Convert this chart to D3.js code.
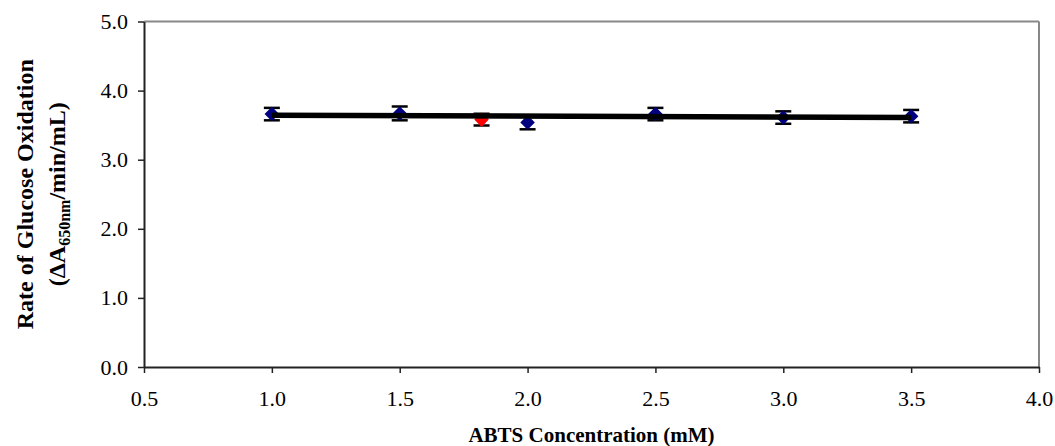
<!DOCTYPE html>
<html>
<head>
<meta charset="utf-8">
<script src="https://cdn.jsdelivr.net/npm/d3@7"></script>
<style>
  body { margin: 0; background: #fff; }
  text { font-family: "Liberation Serif", "Times New Roman", serif; }
</style>
</head>
<body>
<div id="chart"></div>
<script>
// ABTS concentration (mM) and rate values
const concBlue = [1.0, 1.5, 2.0, 2.5, 3.0, 3.5]
const rateBlue = [3.66, 3.67, 3.54, 3.66, 3.61, 3.63]
const errBlue = [0.09, 0.1, 0.1, 0.09, 0.09, 0.09]
const concRed = [1.82]
const rateRed = [3.58]
const errRed = [0.085]
// trendline end points
const trendX = [1.0, 3.5]
const trendY = [3.645, 3.61]
const xTicks = [0.5, 1.0, 1.5, 2.0, 2.5, 3.0, 3.5, 4.0]
const yTicks = [0, 1, 2, 3, 4, 5]

const width = 1055
const height = 446
const margin = { top: 21.5, right: 16, bottom: 79, left: 144 }

const svg = d3.select('#chart')
    .append('svg')
    .attr('width', width)
    .attr('height', height)

const xScale = d3.scaleLinear()
    .domain([0.5, 4.0])
    .range([margin.left, width - margin.right])

const yScale = d3.scaleLinear()
    .domain([0, 5])
    .range([height - margin.bottom, margin.top])

// plot frame: grey top / right
svg.append('line')
    .attr('x1', xScale(0.5)).attr('x2', xScale(4.0))
    .attr('y1', yScale(5)).attr('y2', yScale(5))
    .attr('stroke', '#888').attr('stroke-width', 2)
svg.append('line')
    .attr('x1', xScale(4.0)).attr('x2', xScale(4.0))
    .attr('y1', yScale(5)).attr('y2', yScale(0))
    .attr('stroke', '#888').attr('stroke-width', 2)

// x axis
const xAxis = d3.axisBottom(xScale)
    .tickValues(xTicks)
    .tickFormat(d3.format('.1f'))
    .tickSizeInner(6)
    .tickSizeOuter(0)
    .tickPadding(17)
const gx = svg.append('g')
    .attr('transform', `translate(0,${yScale(0)})`)
    .call(xAxis)

// y axis
const yAxis = d3.axisLeft(yScale)
    .tickValues(yTicks)
    .tickFormat(d3.format('.1f'))
    .tickSizeInner(6)
    .tickSizeOuter(0)
    .tickPadding(10)
const gy = svg.append('g')
    .attr('transform', `translate(${xScale(0.5)},0)`)
    .call(yAxis)

for (const g of [gx, gy]) {
    g.select('.domain').attr('stroke', '#222').attr('stroke-width', 2)
    g.selectAll('.tick line').attr('stroke', '#222').attr('stroke-width', 1.5)
    g.selectAll('.tick text')
        .attr('fill', '#000')
        .style('font-family', '"Liberation Serif", serif')
        .style('font-size', '22px')
}

// error bars
const capW = 8
function errorBars(xs, ys, es) {
    const g = svg.append('g')
    xs.forEach((x, i) => {
        const cx = xScale(x)
        g.append('line')
            .attr('x1', cx).attr('x2', cx)
            .attr('y1', yScale(ys[i] + es[i])).attr('y2', yScale(ys[i] - es[i]))
            .attr('stroke', '#000').attr('stroke-width', 2)
        for (const v of [ys[i] + es[i], ys[i] - es[i]]) {
            g.append('line')
                .attr('x1', cx - capW).attr('x2', cx + capW)
                .attr('y1', yScale(v)).attr('y2', yScale(v))
                .attr('stroke', '#000').attr('stroke-width', 2.5)
        }
    })
}
errorBars(concBlue, rateBlue, errBlue)
errorBars(concRed, rateRed, errRed)

// markers
const diamond = d3.symbol().type(d3.symbolDiamond2).size(135)
svg.append('g')
    .selectAll('path')
    .data(concBlue)
    .enter()
    .append('path')
    .attr('d', diamond)
    .attr('transform', (d, i) => `translate(${xScale(d)},${yScale(rateBlue[i])})`)
    .attr('fill', '#000080')
svg.append('g')
    .selectAll('path')
    .data(concRed)
    .enter()
    .append('path')
    .attr('d', diamond)
    .attr('transform', (d, i) => `translate(${xScale(d)},${yScale(rateRed[i])})`)
    .attr('fill', '#ff0000')

// trendline
svg.append('path')
    .datum(trendX.map((x, i) => [x, trendY[i]]))
    .attr('d', d3.line().x(d => xScale(d[0])).y(d => yScale(d[1])))
    .attr('stroke', '#000')
    .attr('stroke-width', 5.5)
    .attr('fill', 'none')

// axis titles
svg.append('text')
    .attr('x', (xScale(0.5) + xScale(4.0)) / 2)
    .attr('y', 442)
    .attr('text-anchor', 'middle')
    .style('font-size', '21px')
    .style('font-weight', 'bold')
    .text('ABTS Concentration (mM)')

const yMid = (yScale(0) + yScale(5)) / 2
const yTitle = svg.append('text')
    .attr('transform', `translate(33,${yMid}) rotate(-90)`)
    .attr('text-anchor', 'middle')
    .style('font-size', '24px')
    .style('font-weight', 'bold')
yTitle.append('tspan').attr('x', 0).attr('dy', 0).text('Rate of Glucose Oxidation')
const line2 = yTitle.append('tspan').attr('x', 0).attr('dy', 32)
line2.append('tspan').text('(ΔA')
line2.append('tspan').attr('dy', 5).style('font-size', '16px').text('650nm')
line2.append('tspan').attr('dy', -5).text('/min/mL)')
</script>
</body>
</html>
